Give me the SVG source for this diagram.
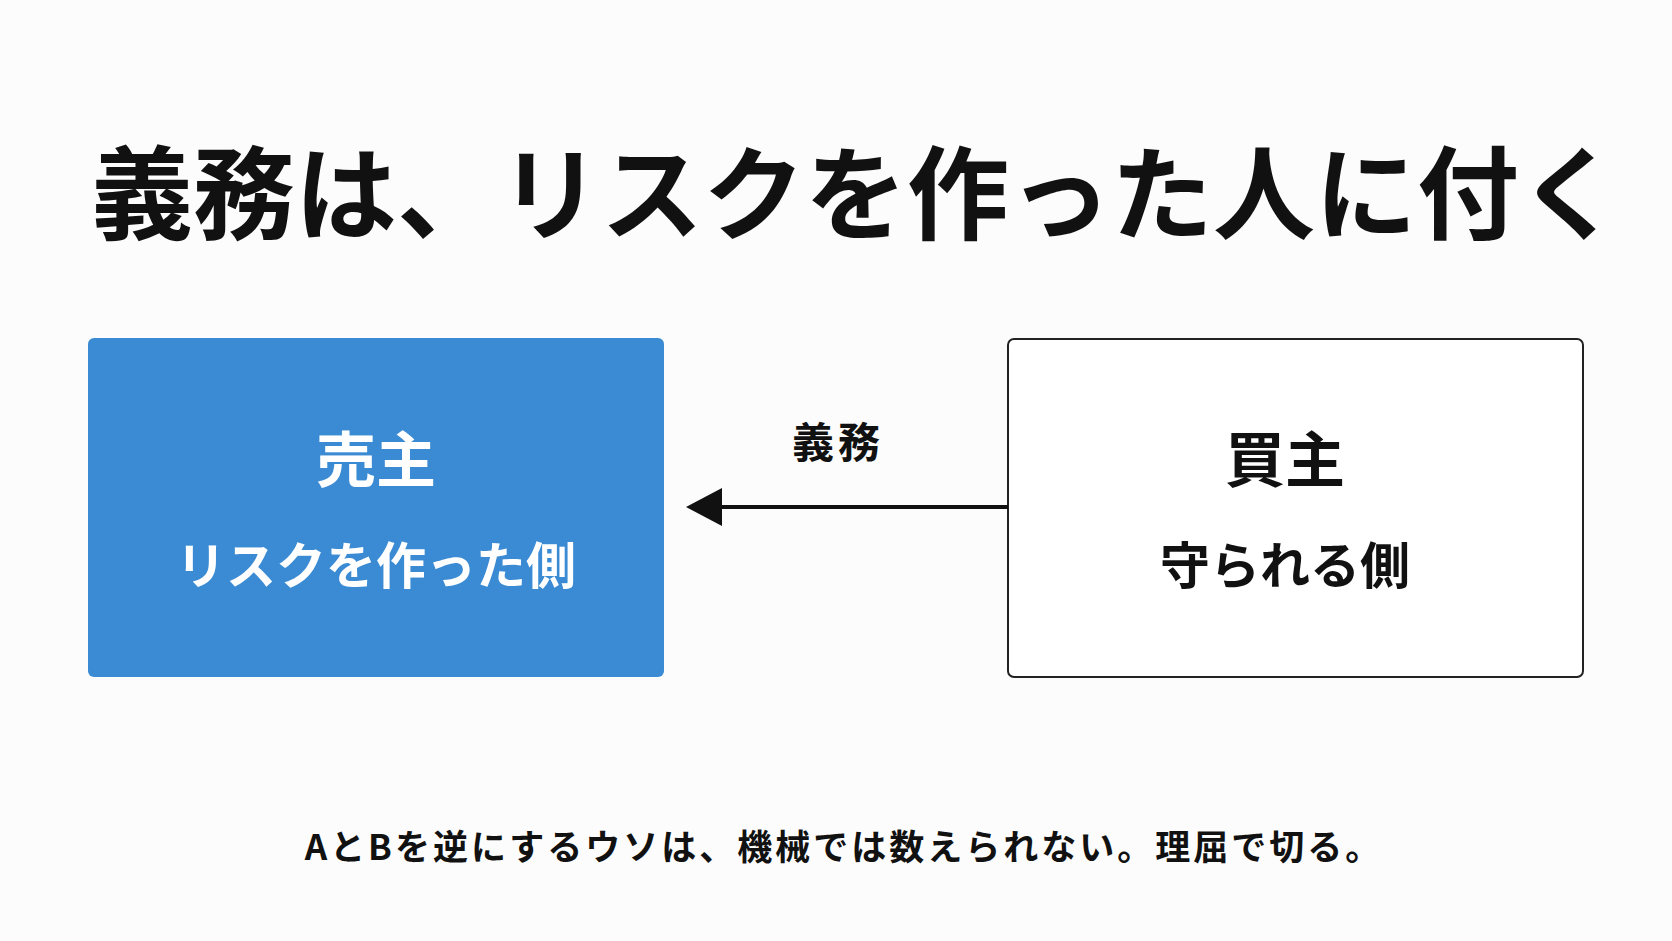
<svg xmlns="http://www.w3.org/2000/svg" width="1672" height="941" viewBox="0 0 1672 941">
<style>
text{font-family:"Noto Sans CJK JP","Liberation Sans",sans-serif;font-weight:bold;text-anchor:middle}
</style>
<defs><marker id="ah" markerWidth="10" markerHeight="10" refX="9" refY="5" orient="auto" markerUnits="userSpaceOnUse" viewBox="0 0 10 10"><path d="M0,0L10,5L0,10z" fill="#111"/></marker></defs>
<rect width="1672" height="941" fill="#fcfcfc"/>
<text x="856" y="232" font-size="102" font-weight="900" fill="#111">義務は、リスクを作った人に付く</text>
<g id="seller">
<rect x="88" y="338" width="576" height="339" rx="6" fill="#3a8bd4"/>
<text x="376" y="482" font-size="60" fill="#fff">売主</text>
<text x="376" y="584" font-size="50" fill="#fff">リスクを作った側</text>
</g>
<g id="buyer">
<rect x="1008" y="339" width="575" height="338" rx="6" fill="#fff" stroke="#222" stroke-width="2"/>
<text x="1285" y="482" font-size="60" fill="#111">買主</text>
<text x="1285" y="584" font-size="50" fill="#111">守られる側</text>
</g>
<g id="connectors">
<line x1="1008" y1="507" x2="722" y2="507" stroke="#111" stroke-width="4"/>
<path d="M686,507L722,488L722,526z" fill="#111"/>
<text x="838" y="458" font-size="42" letter-spacing="4" fill="#111">義務</text>
</g>
<text x="844" y="860" font-size="35" letter-spacing="3" fill="#111">AとBを逆にするウソは、機械では数えられない。理屈で切る。</text>
</svg>
